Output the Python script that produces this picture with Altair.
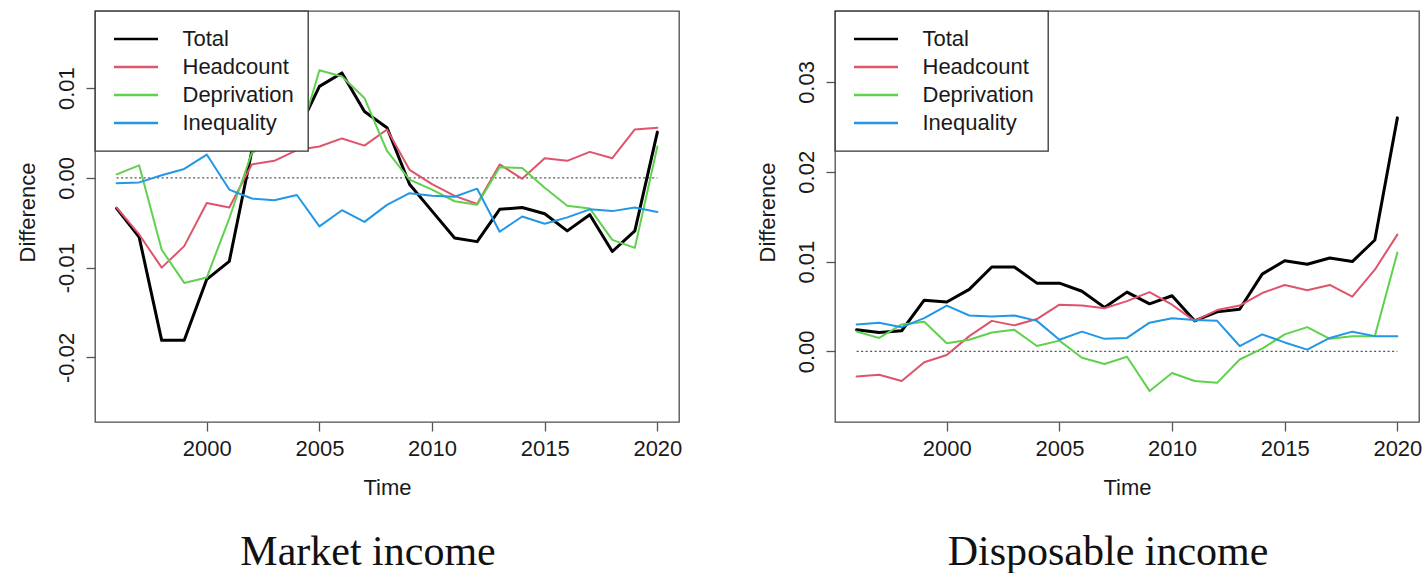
import altair as alt
import pandas as pd

# Years covered by both panels
years = list(range(1996, 2021))

series_names = ["Total", "Headcount", "Deprivation", "Inequality"]
series_colors = ["#000000", "#DF536B", "#61D04F", "#2297E6"]

# Market income: difference by component
market_total = [-0.0034, -0.0066, -0.0181, -0.0181, -0.0113, -0.0093, 0.0030, 0.0045,
                0.0050, 0.0102, 0.0117, 0.0074, 0.0056, -0.0007, -0.0037, -0.0067,
                -0.0071, -0.0035, -0.0033, -0.0040, -0.0059, -0.0041, -0.0082, -0.0059,
                0.0051]
market_headcount = [-0.0033, -0.0063, -0.0100, -0.0076, -0.0028, -0.0033, 0.0015, 0.0019,
                    0.0031, 0.0035, 0.0044, 0.0036, 0.0054, 0.0009, -0.0007, -0.0020,
                    -0.0029, 0.0015, -0.0001, 0.0022, 0.0019, 0.0029, 0.0022, 0.0054,
                    0.0056]
market_deprivation = [0.0004, 0.0014, -0.0080, -0.0117, -0.0111, -0.0045, 0.0028, 0.0040,
                      0.0035, 0.0120, 0.0113, 0.0089, 0.0030, -0.0002, -0.0013, -0.0026,
                      -0.0030, 0.0012, 0.0011, -0.0011, -0.0031, -0.0034, -0.0069, -0.0078,
                      0.0035]
market_inequality = [-0.0006, -0.0005, 0.0003, 0.0010, 0.0026, -0.0013, -0.0023, -0.0025,
                     -0.0019, -0.0054, -0.0036, -0.0049, -0.0030, -0.0017, -0.0020, -0.0021,
                     -0.0012, -0.0060, -0.0043, -0.0051, -0.0044, -0.0035, -0.0037, -0.0033,
                     -0.0038]

# Disposable income: difference by component
disp_total = [0.0024, 0.0021, 0.0023, 0.0057, 0.0055, 0.0069, 0.0094, 0.0094, 0.0076,
              0.0076, 0.0067, 0.0049, 0.0066, 0.0053, 0.0062, 0.0034, 0.0044, 0.0047,
              0.0086, 0.0101, 0.0097, 0.0104, 0.0100, 0.0124, 0.0260]
disp_headcount = [-0.0028, -0.0026, -0.0033, -0.0012, -0.0004, 0.0017, 0.0034, 0.0029,
                  0.0036, 0.0052, 0.0051, 0.0048, 0.0056, 0.0066, 0.0052, 0.0034, 0.0046,
                  0.0051, 0.0065, 0.0074, 0.0068, 0.0074, 0.0061, 0.0091, 0.0130]
disp_deprivation = [0.0022, 0.0015, 0.0030, 0.0033, 0.0009, 0.0013, 0.0021, 0.0024,
                    0.0006, 0.0012, -0.0007, -0.0014, -0.0006, -0.0044, -0.0024, -0.0033,
                    -0.0035, -0.0009, 0.0003, 0.0019, 0.0027, 0.0014, 0.0017, 0.0017,
                    0.0110]
disp_inequality = [0.0030, 0.0032, 0.0027, 0.0037, 0.0051, 0.0040, 0.0039, 0.0040,
                   0.0034, 0.0013, 0.0022, 0.0014, 0.0015, 0.0032, 0.0037, 0.0035, 0.0034,
                   0.0006, 0.0019, 0.0010, 0.0002, 0.0015, 0.0022, 0.0017, 0.0017]

x_ticks = [2000, 2005, 2010, 2015, 2020]
market_y_ticks = [-0.02, -0.01, 0.0, 0.01]
disp_y_ticks = [0.0, 0.01, 0.02, 0.03]

FONT = "Liberation Sans"
TEXT = "#1a1a1a"


def long_frame(columns):
    rows = []
    for name, values in zip(series_names, columns):
        for year, value in zip(years, values):
            rows.append({"series": name, "year": year, "value": value})
    return pd.DataFrame(rows)


def panel(columns, caption, y_domain, y_ticks):
    x_enc = alt.X(
        "year:Q",
        scale=alt.Scale(domain=[1995.04, 2020.96], nice=False, zero=False),
        axis=alt.Axis(values=x_ticks, format="d", title="Time",
                      titleY=72, titleBaseline="alphabetic",
                      labelPadding=7),
    )
    y_enc = alt.Y(
        "value:Q",
        scale=alt.Scale(domain=y_domain, nice=False, zero=False),
        axis=alt.Axis(values=y_ticks,
                      labelExpr="replace(format(datum.value, '.2f'), '\u2212', '-')",
                      labelAngle=270, labelAlign="center",
                      labelBaseline="alphabetic", labelPadding=13,
                      title="Difference", titleAngle=270, titleX=-61, titleY=201,
                      titleAlign="center", titleBaseline="alphabetic"),
    )

    # dotted reference line at zero across the observed years
    zero = pd.DataFrame({"year": [years[0]], "year_end": [years[-1]], "value": [0.0]})
    zero_line = alt.Chart(zero).mark_rule(
        color="#555555", strokeWidth=1.2, strokeDash=[2, 2.5]
    ).encode(x=x_enc, x2=alt.X2("year_end"), y=y_enc)

    lines = alt.Chart(long_frame(columns)).mark_line(
        strokeCap="round", strokeJoin="round"
    ).encode(
        x=x_enc,
        y=y_enc,
        color=alt.Color(
            "series:N",
            scale=alt.Scale(domain=series_names, range=series_colors),
            sort=series_names,
            legend=alt.Legend(
                title=None, orient="none", legendX=0, legendY=0,
                direction="vertical",
                symbolType="stroke", symbolSize=1936, symbolStrokeWidth=2.5,
                symbolOffset=3.5, clipHeight=28, rowPadding=0, padding=14,
                labelOffset=23, labelFont=FONT, labelFontSize=22,
                labelColor=TEXT, labelLimit=0,
                fillColor="white", strokeColor="#333333",
            ),
        ),
        strokeWidth=alt.condition("datum.series == 'Total'", alt.value(3), alt.value(2)),
    )

    return alt.layer(zero_line, lines).properties(
        width=584,
        height=411,
        title=alt.Title(caption, orient="bottom", font="Liberation Serif",
                        fontSize=42, fontWeight="normal", color="#111111",
                        dx=-19, offset=34),
    )


market = panel([market_total, market_headcount, market_deprivation, market_inequality],
               "Market income", [-0.0272, 0.0186], market_y_ticks)
disposable = panel([disp_total, disp_headcount, disp_deprivation, disp_inequality],
                   "Disposable income", [-0.00786, 0.0379], disp_y_ticks)

chart = alt.hconcat(market, disposable, spacing=156, bounds="flush").resolve_scale(
    x="independent", y="independent", color="independent"
).resolve_legend(color="independent").properties(
    padding={"left": 15, "top": 9, "right": 0, "bottom": 0},
    background="white",
).configure_view(
    stroke="#4d4d4d", strokeWidth=1.3
).configure_axis(
    grid=False, domain=False,
    tickSize=9, tickColor="#555555", tickWidth=1.3,
    labelFont=FONT, labelFontSize=22, labelColor=TEXT,
    titleFont=FONT, titleFontSize=22, titleFontWeight="normal", titleColor=TEXT,
).configure_legend(
    strokeWidth=1.3
)

chart.save("out.html", embed_options={"renderer": "svg", "actions": False})
